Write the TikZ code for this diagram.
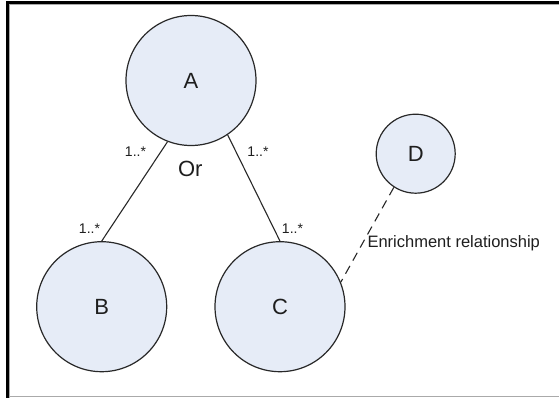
\documentclass[tikz,border=0pt]{standalone}
\usepackage{fontspec}
\setmainfont{Liberation Sans}
\definecolor{entfill}{RGB}{230,236,247}
\definecolor{linegray}{RGB}{40,40,40}
\definecolor{txt}{RGB}{30,30,30}
\definecolor{framegray}{RGB}{170,170,170}
\begin{document}
\begin{tikzpicture}[x=1pt,y=-1pt,
  ent/.style={circle,draw=linegray,fill=entfill,line width=1.2pt,minimum size=130pt,inner sep=0pt,font=\fontsize{22}{26}\selectfont,text=txt},
  link/.style={draw=linegray,line width=1.1pt},
  mult/.style={font=\fontsize{14}{16}\selectfont,text=txt,inner sep=0pt,anchor=base},
  lbl/.style={text=txt,inner sep=0pt}
]
\useasboundingbox (0,0) rectangle (559,398);
\fill[white] (0,0) rectangle (559,398);
% frame
\fill[black] (6,1) rectangle (559,4);
\fill[black] (6,1) rectangle (9,398);
\draw[framegray,line width=1pt] (9.5,4.5) -- (559,4.5);
\draw[framegray,line width=1pt] (9.5,4.5) -- (9.5,398);
\draw[framegray,line width=1pt] (9,396.8) -- (559,396.8);
% entities
\node[ent] (A) at (191,80.5) {A};
\node[ent] (B) at (101.7,306.7) {B};
\node[ent] (C) at (280,306.7) {C};
\node[ent,minimum size=79pt] (D) at (415.7,153.7) {D};
% connectors
\draw[link] (A.-111) -- (B.north);
\draw[link] (A.-56) -- (C.north);
\draw[link,dash pattern=on 9pt off 6pt] (D.-123) -- (C.22);
% labels
\node[mult] (mAB) at (135.5,157) {1..*};
\node[mult] (mAC) at (258,157) {1..*};
\node[mult] (mB) at (89.5,233) {1..*};
\node[mult] (mC) at (292.5,233) {1..*};
\node[lbl,anchor=base,font=\fontsize{22}{26}\selectfont] (or) at (190.3,176.7) {Or};
\node[lbl,anchor=base west,font=\fontsize{16.5}{20}\selectfont] (enr) at (367.3,247) {Enrichment relationship};
\end{tikzpicture}
\end{document}
